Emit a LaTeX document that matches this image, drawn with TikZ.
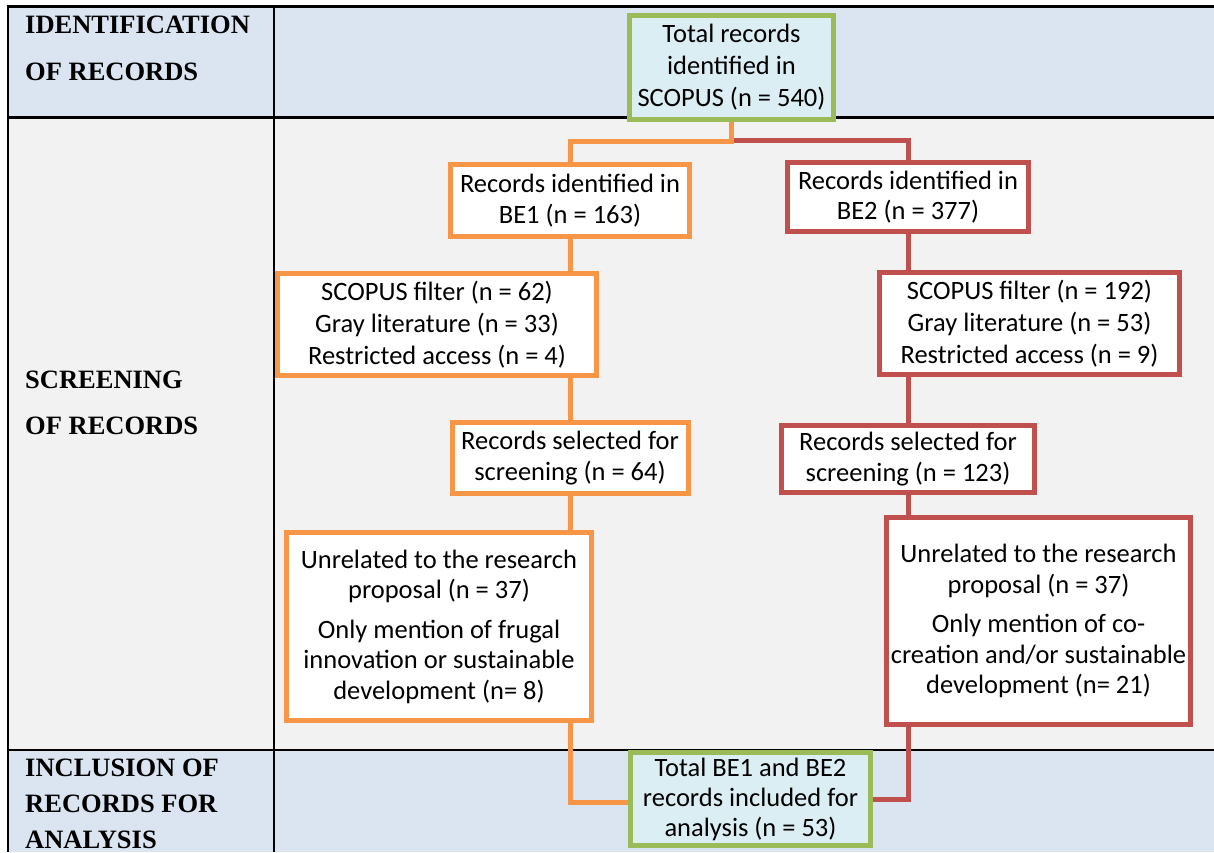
\documentclass[tikz,border=0pt]{standalone}
\usepackage{fontspec}
\setmainfont{Carlito}
\newfontfamily\tnr{Liberation Serif}
\usetikzlibrary{backgrounds,calc}
\definecolor{obox}{HTML}{F79646}
\definecolor{rbox}{HTML}{C0504D}
\definecolor{gbox}{HTML}{9BBB59}
\definecolor{cfill}{HTML}{DAEEF3}
\definecolor{rowblue}{HTML}{DBE5F1}
\definecolor{rowgray}{HTML}{F2F2F2}
\begin{document}
\begin{tikzpicture}[x=1pt,y=-1pt,
  box/.style={draw, line width=5pt, fill=white, align=center, inner sep=0pt,
    font=\fontsize{26.5}{30.5}\selectfont},
  obx/.style={box, draw=obox},
  rbx/.style={box, draw=rbox},
  gbx/.style={box, draw=gbox, fill=cfill},
  oline/.style={draw=obox, line width=5pt},
  rline/.style={draw=rbox, line width=5pt},
  lab/.style={anchor=base west, inner sep=0pt, font=\tnr\bfseries\fontsize{26.5}{30}\selectfont},
  rulethick/.style={draw=black, line width=2.5pt},
  rulethin/.style={draw=black, line width=2pt}]
\useasboundingbox (0,0) rectangle (1214,852);

% boxes
\node[gbx, minimum width=204pt, minimum height=104pt, font=\fontsize{26.5}{32}\selectfont] (top) at (731.5,67.5)
  {Total records\\identified in\\SCOPUS (n = 540)};
\node[obx, minimum width=239pt, minimum height=72pt] (be1) at (570,200.5)
  {Records identified in\\BE1 (n = 163)};
\node[rbx, minimum width=241pt, minimum height=69pt] (be2) at (908,197)
  {Records identified in\\BE2 (n = 377)};
\node[obx, minimum width=319pt, minimum height=102pt, font=\fontsize{26.5}{32}\selectfont] (f1) at (437,324.5)
  {SCOPUS filter (n = 62)\\Gray literature (n = 33)\\Restricted access (n = 4)};
\node[rbx, minimum width=300pt, minimum height=102pt, font=\fontsize{26.5}{32}\selectfont] (f2) at (1029.5,323.5)
  {SCOPUS filter (n = 192)\\Gray literature (n = 53)\\Restricted access (n = 9)};
\node[obx, minimum width=236pt, minimum height=71pt] (s1) at (570,458)
  {Records selected for\\screening (n = 64)};
\node[rbx, minimum width=253pt, minimum height=67pt] (s2) at (908,459)
  {Records selected for\\screening (n = 123)};
\node[obx, minimum width=305pt, minimum height=188pt] (u1) at (439,626.5)
  {Unrelated to the research\\proposal (n = 37)\\[9pt]Only mention of frugal\\innovation or sustainable\\development (n= 8)};
\node[rbx, minimum width=304pt, minimum height=207pt] (u2) at (1038.5,621)
  {Unrelated to the research\\proposal (n = 37)\\[9pt]Only mention of co-\\creation and/or sustainable\\development (n= 21)};
\node[gbx, minimum width=240pt, minimum height=93pt, font=\fontsize{26.5}{30}\selectfont] (bot) at (750.5,799)
  {Total BE1 and BE2\\records included for\\analysis (n = 53)};

% row labels
\node[lab] (id1) at (25,33) {IDENTIFICATION};
\node[lab] (id2) at (25,80) {OF RECORDS};
\node[lab] (sc1) at (25,388) {SCREENING};
\node[lab] (sc2) at (25,434) {OF RECORDS};
\node[lab] (in1) at (25,776) {INCLUSION OF};
\node[lab] (in2) at (25,812) {RECORDS FOR};
\node[lab] (in3) at (25,848) {ANALYSIS};

\begin{scope}[on background layer]
  % table
  \fill[rowblue] (8,6.5) rectangle (1214,117.5);
  \fill[rowgray] (8,117.5) rectangle (1214,749.5);
  \fill[rowblue] (8,749.5) rectangle (1214,852);
  \draw[rulethick] (6.75,6.5) -- (1214,6.5);
  \draw[rulethick] (8,117.5) -- (1214,117.5);
  \draw[rulethin] (8,749.5) -- (1214,749.5);
  \draw[rulethick] (8,6.5) -- (8,852);
  \draw[rulethin] (274,6.5) -- (274,852);
  % connectors
  \draw[rline] ($(top.south)+(0,18)$) -| (be2.north);
  \draw[oline] (top.south) -- ++(0,19) -| (be1.north);
  \draw[oline] (be1.south) -- (s1.north);
  \draw[oline] (s1.south) |- ($(bot.west)+(0,3)$);
  \draw[rline] (be2.south) -- (s2.north);
  \draw[rline] (s2.south) |- (bot.east);
\end{scope}
\end{tikzpicture}
\end{document}
